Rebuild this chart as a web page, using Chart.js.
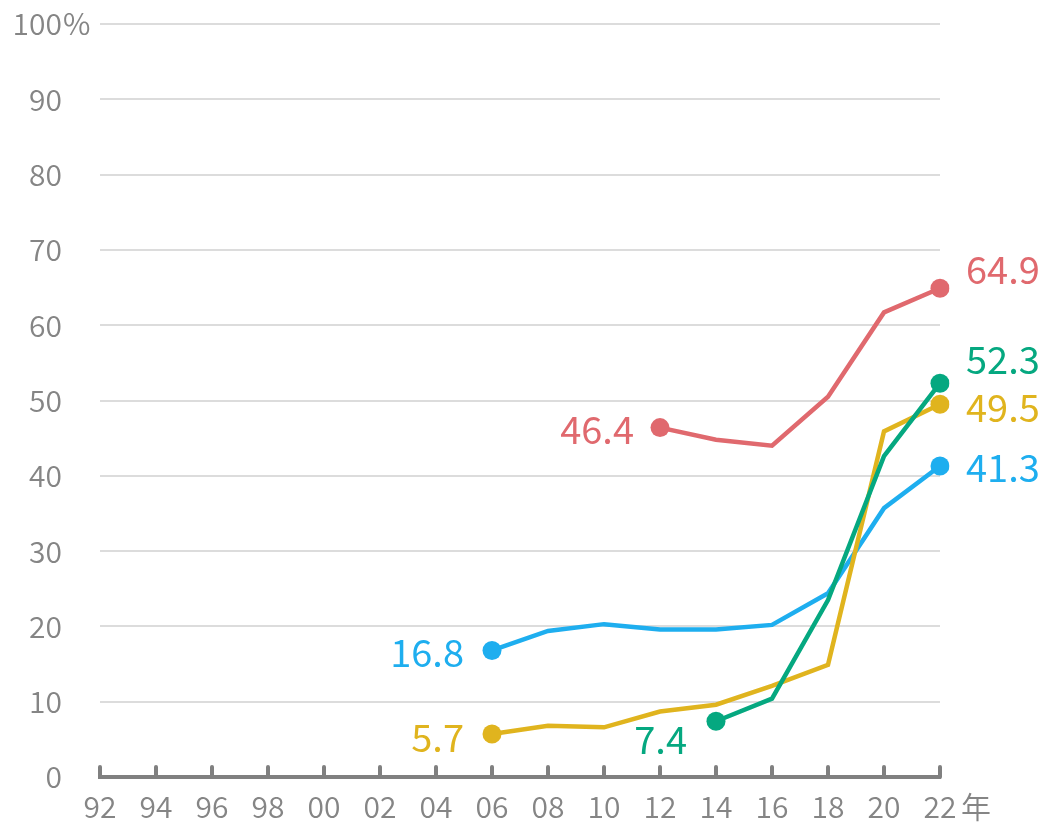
<!DOCTYPE html>
<html>
<head>
<meta charset="utf-8">
<script src="https://cdn.jsdelivr.net/npm/chart.js@4"></script>
<style>
  html, body { margin: 0; padding: 0; background: #fff; }
  #wrap { width: 1048px; height: 822px; }
</style>
</head>
<body>
<div id="wrap"><canvas id="chart" width="1048" height="822"></canvas></div>
<script>
// 年（下2桁）
const years = ['92', '94', '96', '98', '00', '02', '04', '06', '08', '10', '12', '14', '16', '18', '20', '22'];
const yTicks = [0, 10, 20, 30, 40, 50, 60, 70, 80, 90, 100];

// 各系列の値（%）
const redValues    = [null, null, null, null, null, null, null, null, null, null, 46.4, 44.8, 44.0, 50.5, 61.7, 64.9];
const blueValues   = [null, null, null, null, null, null, null, 16.8, 19.4, 20.3, 19.6, 19.6, 20.2, 24.4, 35.7, 41.3];
const greenValues  = [null, null, null, null, null, null, null, null, null, null, null, 7.4, 10.4, 23.5, 42.6, 52.3];
const yellowValues = [null, null, null, null, null, null, null, 5.7, 6.8, 6.6, 8.7, 9.6, 12.1, 14.9, 45.9, 49.5];

const FONT = '"Noto Sans CJK JP", "Noto Sans", sans-serif';
const GRAY = '#858585';

// 始点・終点ラベルの位置調整 [dx, dy]
const labelOffsets = {
    red:    { first: [-26, 2],  last: [26, -19] },
    blue:   { first: [-28, 2],  last: [26, 2] },
    green:  { first: [-29, 18], last: [26, -24] },
    yellow: { first: [-28, 3],  last: [26, 3] }
};

function firstIndex(arr) { return arr.findIndex(v => v !== null); }

function makeDataset(key, values, color) {
    const f = firstIndex(values);
    const l = values.length - 1;
    return {
        key: key,
        data: values,
        borderColor: color,
        backgroundColor: color,
        borderWidth: 4.5,
        tension: 0,
        pointRadius: ctx => (ctx.dataIndex === f || ctx.dataIndex === l) ? 9.5 : 0,
        pointBorderWidth: 0,
        pointBackgroundColor: color
    };
}

// 端点ラベル、目盛り、「年」「%」を描く
const extrasPlugin = {
    id: 'extras',
    afterDatasetsDraw(chart) {
        const ctx = chart.ctx;
        const x = chart.scales.x;
        const y = chart.scales.y;
        ctx.save();

        // x軸の上向き目盛り
        ctx.strokeStyle = '#808080';
        ctx.lineWidth = 4;
        ctx.lineCap = 'round';
        years.forEach((_, i) => {
            const px = x.getPixelForTick(i);
            ctx.beginPath();
            ctx.moveTo(px, y.bottom - 10);
            ctx.lineTo(px, y.bottom);
            ctx.stroke();
        });

        // 単位
        ctx.fillStyle = GRAY;
        ctx.font = '350 30px ' + FONT;
        ctx.textBaseline = 'middle';
        ctx.textAlign = 'left';
        ctx.fillText('%', 63, y.getPixelForValue(100));
        ctx.fillText('年', 961, 807);

        // 値ラベル
        ctx.font = '400 38px ' + FONT;
        chart.data.datasets.forEach((ds, di) => {
            const meta = chart.getDatasetMeta(di);
            const f = firstIndex(ds.data);
            const l = ds.data.length - 1;
            const off = labelOffsets[ds.key];
            ctx.fillStyle = ds.borderColor;
            const p0 = meta.data[f];
            ctx.textAlign = 'right';
            ctx.fillText(ds.data[f].toFixed(1), p0.x + off.first[0], p0.y + off.first[1]);
            const p1 = meta.data[l];
            ctx.textAlign = 'left';
            ctx.fillText(ds.data[l].toFixed(1), p1.x + off.last[0], p1.y + off.last[1]);
        });
        ctx.restore();
    }
};

new Chart(document.getElementById('chart'), {
    type: 'line',
    data: {
        labels: years,
        datasets: [
            makeDataset('red', redValues, '#E0696E'),
            makeDataset('green', greenValues, '#05A880'),
            makeDataset('yellow', yellowValues, '#E0B41E'),
            makeDataset('blue', blueValues, '#1EAEEF')
        ]
    },
    options: {
        responsive: false,
        animation: false,
        layout: { padding: { top: 24, right: 108, left: 0, bottom: 0 } },
        plugins: {
            legend: { display: false },
            tooltip: { enabled: false }
        },
        scales: {
            x: {
                offset: false,
                afterFit(scale) {
                    scale.height = 45;
                    scale.paddingLeft = 0;
                    scale.paddingRight = 0;
                },
                grid: { display: false, drawTicks: false },
                border: { display: true, color: '#808080', width: 4 },
                ticks: {
                    color: GRAY,
                    font: { family: FONT, size: 30, weight: 350, lineHeight: 1 },
                    padding: 15,
                    maxRotation: 0,
                    autoSkip: false
                }
            },
            y: {
                min: 0,
                max: 100,
                afterFit(scale) {
                    scale.width = 100;
                    scale.paddingTop = 0;
                    scale.paddingBottom = 0;
                },
                afterBuildTicks(scale) { scale.ticks = yTicks.map(v => ({ value: v })); },
                grid: {
                    color: ctx => ctx.tick && ctx.tick.value === 0 ? 'rgba(0,0,0,0)' : '#DCDCDC',
                    lineWidth: 2,
                    drawTicks: false
                },
                border: { display: false },
                ticks: {
                    color: GRAY,
                    font: { family: FONT, size: 30, weight: 350, lineHeight: 1 },
                    padding: 38
                }
            }
        }
    },
    plugins: [extrasPlugin]
});
</script>
</body>
</html>
